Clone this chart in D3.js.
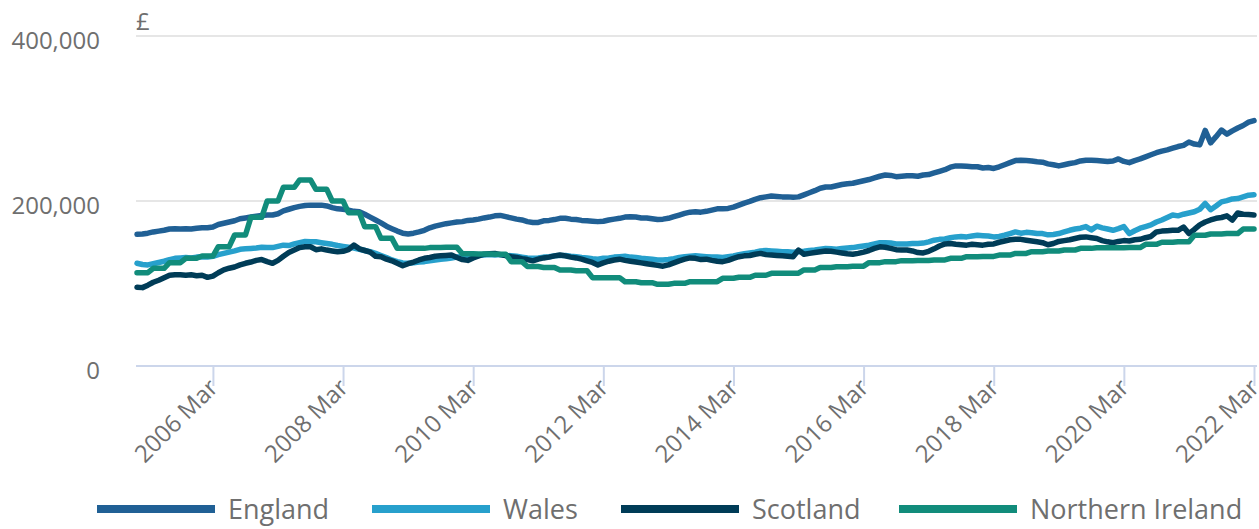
<!DOCTYPE html>
<html>
<head>
<meta charset="utf-8">
<script src="https://cdn.jsdelivr.net/npm/d3@7"></script>
<style>
html,body{margin:0;padding:0;background:#fff;}
svg{display:block;font-family:"Open Sans",sans-serif;}
</style>
</head>
<body>
<svg id="chart" width="1259" height="529"></svg>
<script>
// ---- DATA (average house price, £ thousands) ----
const monthNames = ["Jan","Feb","Mar","Apr","May","Jun","Jul","Aug","Sep","Oct","Nov","Dec"];
const firstYear = 2005, lastYear = 2022, lastMonthIndex = 2; // Jan 2005 .. Mar 2022
const tickLabels = ["2006 Mar","2008 Mar","2010 Mar","2012 Mar","2014 Mar","2016 Mar","2018 Mar","2020 Mar","2022 Mar"];
const yTicks = [0, 200, 400];
const seriesNames = ["England","Wales","Scotland","Northern Ireland"];

const england = [
159.6,160.0,161.0,162.5,163.5,164.5,166.0,166.5,166.0,166.5,166.0,167.0,
167.5,167.5,168.5,171.5,173.0,174.5,176.0,178.5,179.5,180.5,181.5,182.5,
183.0,183.0,184.5,188.0,190.0,192.0,193.5,194.5,195.0,195.0,195.0,194.0,
192.0,190.5,190.0,189.0,187.5,187.0,184.0,180.5,177.0,173.5,169.5,166.5,
163.5,161.0,160.0,161.0,162.5,164.5,167.5,169.5,171.0,172.5,173.5,174.5,
175.0,176.5,177.0,178.0,179.5,180.5,182.0,182.5,181.0,179.5,178.0,177.0,
175.0,174.0,174.0,176.0,176.5,177.5,179.0,179.0,178.0,177.5,176.5,176.0,
175.5,175.0,175.5,177.0,178.0,179.0,180.5,181.0,180.5,179.5,179.5,178.5,
177.5,178.0,179.0,181.0,183.0,185.0,186.5,187.0,186.5,187.5,189.0,190.5,
190.5,191.0,192.5,195.0,197.5,199.5,202.0,204.0,205.0,206.0,205.5,205.0,
205.0,204.5,205.0,207.5,210.0,212.5,215.5,217.0,217.0,218.5,220.0,221.0,
221.5,223.0,224.5,226.0,228.0,230.0,231.5,231.0,229.5,230.0,230.5,230.5,
230.0,231.5,232.0,234.0,236.0,238.0,241.0,242.5,242.5,242.0,241.5,241.5,
240.0,240.5,239.5,241.5,244.0,246.5,249.0,249.5,249.0,248.5,247.5,247.0,
245.0,244.0,242.5,244.0,245.5,246.5,248.5,249.5,249.5,249.0,248.5,248.0,
248.5,251.0,248.0,246.5,249.0,251.0,253.5,256.0,258.5,260.5,262.0,264.0,
266.0,267.5,271.5,269.0,268.0,285.5,270.5,278.0,286.0,281.0,285.0,288.5,
291.5,295.5,297.5
];

const wales = [
124.5,123.0,122.5,124.0,125.5,127.0,129.0,130.5,131.0,131.5,131.0,132.0,
132.5,132.0,133.0,135.0,136.5,138.0,139.5,141.5,142.0,142.5,143.0,144.0,
143.5,143.5,145.0,146.5,146.0,148.0,149.5,151.0,150.5,150.5,149.5,148.5,
147.5,146.0,145.0,144.0,143.0,141.5,140.0,138.5,136.5,134.0,131.5,128.5,
126.5,125.0,124.5,125.0,126.0,126.5,127.5,128.5,129.5,130.0,131.0,132.0,
132.5,133.0,133.5,134.0,134.5,135.0,134.5,135.0,134.0,133.5,133.0,132.0,
131.0,130.5,131.0,132.0,132.5,133.5,134.0,134.0,133.0,132.5,131.5,131.0,
130.0,129.5,130.5,131.0,132.0,132.5,133.0,132.0,131.5,130.5,130.0,129.5,
128.5,128.5,129.0,130.0,131.5,132.5,133.0,133.5,133.0,132.5,132.0,132.0,
131.5,132.5,133.5,135.0,136.0,137.0,138.0,139.5,140.0,139.5,139.0,138.5,
138.5,138.0,138.5,139.0,140.0,140.5,141.5,142.5,142.0,141.5,142.5,143.0,
143.5,144.5,145.5,146.5,148.0,149.5,149.5,149.0,148.0,148.0,148.0,148.5,
148.5,149.0,150.5,152.5,153.5,154.0,155.5,156.5,157.0,156.5,157.5,158.5,
158.0,157.5,156.5,157.0,158.5,160.5,162.5,161.0,162.0,161.5,160.5,160.5,
159.0,159.5,160.5,162.5,164.5,166.0,167.0,169.0,165.0,169.5,167.5,166.0,
164.5,166.5,169.0,160.5,164.0,167.0,169.0,171.0,174.5,177.0,180.0,183.0,
182.0,184.0,185.5,187.0,190.0,197.0,189.5,194.0,199.0,200.5,202.5,203.0,
205.0,207.0,207.5
];

const scotland = [
95.5,95.0,98.0,101.5,104.0,107.0,110.0,110.5,110.5,110.0,110.5,109.5,
110.0,107.5,109.0,113.0,116.5,118.5,120.0,122.5,124.5,126.0,128.0,129.0,
126.5,124.5,128.0,133.0,137.5,140.5,143.5,144.5,144.5,141.0,142.0,140.5,
139.5,138.5,139.0,141.0,146.5,142.0,140.0,138.0,133.0,132.5,129.5,127.5,
124.5,121.5,124.0,126.0,128.5,130.5,131.5,133.0,133.5,134.0,134.5,131.5,
129.0,128.0,131.0,133.5,135.5,136.0,136.5,135.0,134.0,132.5,131.5,130.0,
129.0,127.5,129.5,131.0,132.0,133.5,134.5,133.5,132.0,131.0,129.5,127.5,
125.5,122.5,125.0,127.0,128.5,129.5,128.0,127.0,126.0,125.0,124.0,123.0,
122.0,121.0,122.5,125.0,127.5,129.5,131.0,130.5,129.0,129.5,128.0,127.0,
126.5,128.0,130.5,132.5,133.5,134.0,135.5,136.5,135.0,134.5,134.0,133.5,
133.0,132.5,140.5,135.5,136.5,137.5,138.5,139.5,139.0,138.0,137.0,136.0,
135.5,136.5,138.0,140.0,142.5,144.5,144.0,142.5,141.0,140.5,140.5,139.5,
137.5,137.0,139.0,142.0,145.5,148.0,148.5,147.5,147.0,146.5,147.5,147.0,
146.5,147.5,148.0,150.0,151.5,153.0,153.5,153.5,152.5,151.5,150.5,149.5,
147.0,148.5,151.0,152.0,153.0,154.5,156.0,156.5,155.5,154.5,152.0,150.5,
149.5,151.0,152.0,151.5,153.0,153.5,155.5,157.0,162.5,163.5,164.0,164.5,
164.5,168.5,160.5,165.5,171.0,174.5,177.0,179.0,180.0,182.0,177.0,185.5,
184.0,183.5,183.0
];

const northernIreland = [
113.1,113.1,113.1,118.4,118.4,118.4,125.3,125.3,125.3,130.5,130.5,130.5,
133.3,133.3,133.3,144.6,144.6,144.6,158.8,158.8,158.8,180.2,180.2,180.2,
200.0,200.0,200.0,216.6,216.6,216.6,225.5,225.5,225.5,214.1,214.1,214.1,
200.0,200.0,200.0,185.9,185.9,185.9,168.9,168.9,168.9,154.7,154.7,154.7,
142.6,142.6,142.6,142.6,142.6,142.6,143.5,143.5,143.5,143.8,143.8,143.8,
136.0,136.0,136.0,135.8,135.8,135.8,135.5,135.5,135.5,126.5,126.5,126.5,
120.5,120.5,120.5,119.5,119.5,119.5,116.4,116.4,116.4,115.5,115.5,115.5,
107.1,107.1,107.1,107.1,107.1,107.1,102.2,102.2,102.2,101.0,101.0,101.0,
99.0,99.0,99.0,100.2,100.2,100.2,102.2,102.2,102.2,102.2,102.2,102.2,
106.3,106.3,106.3,107.5,107.5,107.5,110.0,110.0,110.0,112.3,112.3,112.3,
112.5,112.5,112.5,116.4,116.4,116.4,119.5,119.5,119.5,120.4,120.4,120.4,
121.0,121.0,121.0,125.3,125.3,125.3,126.5,126.5,126.5,127.7,127.7,127.7,
128.0,128.0,128.0,128.5,128.5,128.5,130.5,130.5,130.5,132.5,132.5,132.5,
132.8,132.8,132.8,134.5,134.5,134.5,136.5,136.5,136.5,138.6,138.6,138.6,
139.5,139.5,139.5,140.6,140.6,140.6,142.6,142.6,142.6,143.4,143.4,143.4,
143.4,143.4,143.4,143.6,143.6,143.6,147.5,147.5,147.5,150.0,150.0,150.0,
150.7,150.7,150.7,158.5,158.5,158.5,160.0,160.0,160.0,160.5,160.5,160.5,
166.0,166.0,166.0
];

const seriesValues = [england, wales, scotland, northernIreland];
const seriesColors = ["#206095","#27a0cc","#003c57","#118c7b"];

// ---- categories ----
const categories = [];
for (let yr = firstYear; yr <= lastYear; yr++) {
  for (let m = 0; m < 12; m++) {
    if (yr === lastYear && m > lastMonthIndex) break;
    categories.push(yr + " " + monthNames[m]);
  }
}

// ---- CHART ----
const svg = d3.select("#chart");
const textColor = "#6f6f6f";
const plotLeft = 136, plotRight = 1257;

const x = d3.scalePoint().domain(categories).range([137, 1254]);
const y = d3.scaleLinear().domain([0, 400]).range([366, 36]);

// gridlines
svg.append("g").selectAll("line").data(yTicks.filter(d => d > 0)).join("line")
  .attr("x1", plotLeft).attr("x2", plotRight)
  .attr("y1", d => y(d)).attr("y2", d => y(d))
  .attr("stroke", "#e6e6e6").attr("stroke-width", 2);

// y axis labels
const yAxis = svg.append("g").attr("transform", `translate(${plotLeft},0)`)
  .call(d3.axisLeft(y).tickValues(yTicks).tickSize(0).tickPadding(36)
    .tickFormat(d => d3.format(",")(d * 1000)));
yAxis.select(".domain").remove();
yAxis.selectAll("text").attr("fill", textColor).style("font-size", "24px")
  .attr("font-family", "Open Sans").attr("dy", "0.5em");

// £ unit label
svg.append("text").attr("x", 136).attr("y", 30).text("£")
  .attr("fill", textColor).style("font-size", "24px");

// x axis
const xAxis = svg.append("g").attr("transform", "translate(0,366)")
  .call(d3.axisBottom(x).tickValues(tickLabels).tickSize(20).tickSizeOuter(0));
xAxis.select(".domain").remove();
xAxis.selectAll(".tick line").attr("stroke", "#ccd6eb").attr("stroke-width", 2);
xAxis.selectAll("text")
  .attr("fill", textColor).style("font-size", "24px").attr("font-family", "Open Sans")
  .attr("text-anchor", "end").attr("x", 0).attr("y", 0).attr("dy", "0.3em")
  .attr("transform", "translate(1,18) rotate(-45)");
svg.append("line").attr("x1", plotLeft).attr("x2", plotRight)
  .attr("y1", 366).attr("y2", 366).attr("stroke", "#ccd6eb").attr("stroke-width", 2);

// lines
const line = d3.line().x((d, i) => x(categories[i])).y(d => y(d));
svg.append("g").selectAll("path").data(seriesValues).join("path")
  .attr("d", d => line(d))
  .attr("fill", "none")
  .attr("stroke", (d, i) => seriesColors[i])
  .attr("stroke-width", 5.5)
  .attr("stroke-linejoin", "round")
  .attr("stroke-linecap", "round");

// legend
const legendStarts = [97, 372, 621, 899];
const legend = svg.append("g");
seriesNames.forEach((name, i) => {
  const lx = legendStarts[i];
  const g = legend.append("g");
  g.append("rect").attr("x", lx).attr("y", 505).attr("width", 118).attr("height", 8)
    .attr("fill", seriesColors[i]);
  g.append("text").attr("x", lx + 131).attr("y", 509).attr("dy", "0.36em")
    .text(name).attr("fill", textColor).style("font-size", "27px");
});
</script>
</body>
</html>
